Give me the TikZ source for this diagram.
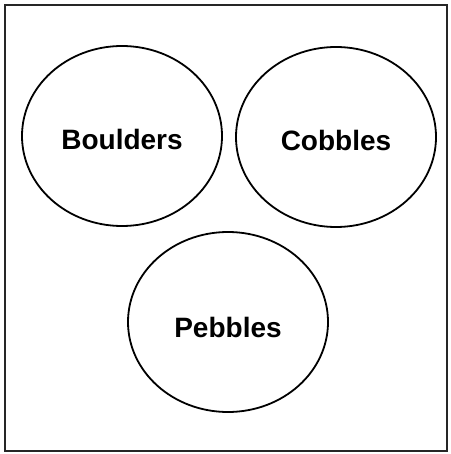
\documentclass[tikz,border=0pt]{standalone}
\usepackage{fontspec}
\setmainfont{Liberation Sans}
\usetikzlibrary{shapes.geometric}
\begin{document}
\begin{tikzpicture}[x=1pt,y=-1pt,
  blob/.style={draw=black,line width=1.8pt,ellipse,minimum width=200pt,minimum height=180pt,inner sep=0pt},
  word/.style={font=\fontsize{28}{32}\selectfont\bfseries,anchor=base,inner sep=0pt}]
\useasboundingbox (0,0) rectangle (450,454);
\draw[line width=1.6pt,black!85] (5,5) rectangle (447,451);
\node[blob] (boulders) at (122,136) {};
\node[blob] (cobbles) at (336,137) {};
\node[blob] (pebbles) at (228,322) {};
\node[word] (tb) at ([yshift=-14pt]boulders.center) {Boulders};
\node[word] (tc) at ([yshift=-14pt]cobbles.center) {Cobbles};
\node[word] (tp) at ([yshift=-15pt]pebbles.center) {Pebbles};
\end{tikzpicture}
\end{document}
